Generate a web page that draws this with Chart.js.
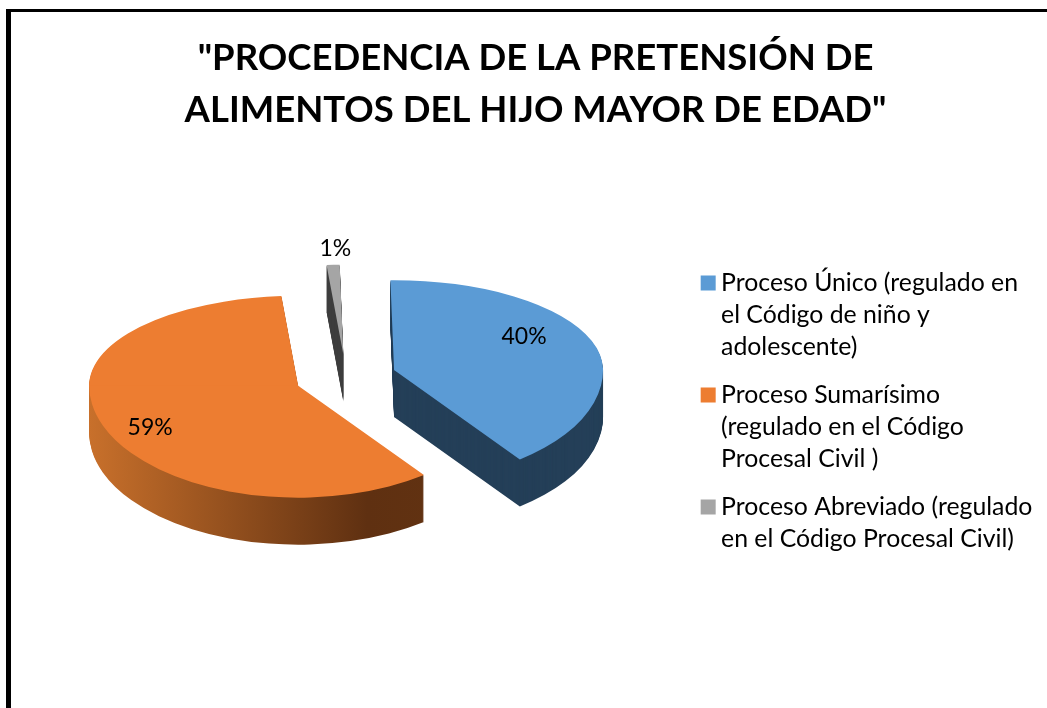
<!DOCTYPE html>
<html>
<head>
    <meta charset="utf-8">
    <title>Procedencia de la pretensión de alimentos</title>
    <style>
        html, body { margin: 0; padding: 0; background: #fff; overflow: hidden; }
        .wrap { position: relative; width: 1047px; height: 708px; }
        /* marco negro: solo arriba e izquierda se ven en la captura */
        .frame {
            position: absolute; left: 6px; top: 9px; right: 0; bottom: 0;
            border-left: 5px solid #000; border-top: 3px solid #000;
        }
        canvas { position: absolute; left: 0; top: 0; }
    </style>
</head>
<body>
<div class="wrap">
    <div class="frame"></div>
    <canvas id="pieChart" width="1047" height="708"></canvas>
</div>

<script src="https://cdn.jsdelivr.net/npm/chart.js"></script>
<script>
    const chartTitle = ['"PROCEDENCIA DE LA PRETENSIÓN DE', 'ALIMENTOS DEL HIJO MAYOR DE EDAD"'];
    const categories = [
        ['Proceso Único (regulado en', 'el Código de niño y', 'adolescente)'],
        ['Proceso Sumarísimo', '(regulado en el Código', 'Procesal Civil )'],
        ['Proceso Abreviado (regulado', 'en el Código Procesal Civil)']
    ];
    const values = [40, 59, 1];
    const topColors = ['#5B9BD5', '#ED7D31', '#A5A5A5'];
    const wallColors = ['#243F58', null, '#3F3F3F'];

    // ajustes del falso 3D
    const FONT = 'Lato, Carlito, sans-serif';
    const RADIUS = 209;
    const EXPLODE = 51;
    const DEPTH = 47;
    const SQUASH_OFFSET = 0.45;
    const SQUASH_BACK = 0.43;   // mitad de atrás, más aplastada
    const SQUASH_FRONT = 0.536; // mitad de delante
    const labelShift = [[130, -33], [-148, 42], [-8, -106]];

    function sliceAnchor(arc) {
        const mid = (arc.startAngle + arc.endAngle) / 2;
        return {
            x: arc.x + Math.cos(mid) * EXPLODE,
            y: arc.y + Math.sin(mid) * EXPLODE * SQUASH_OFFSET
        };
    }

    function drawFlat(ctx, arc, fill, depth) {
        const a = sliceAnchor(arc);
        const saved = arc.options.backgroundColor;
        arc.options.backgroundColor = fill;
        [[SQUASH_BACK, -2000, 2000.5], [SQUASH_FRONT, 0, 2000]].forEach(([k, top, h]) => {
            ctx.save();
            ctx.beginPath();
            ctx.rect(0, a.y + depth + top, 1047, h);
            ctx.clip();
            ctx.translate(a.x, a.y + depth);
            ctx.scale(1, k);
            ctx.translate(-arc.x, -arc.y);
            arc.draw(ctx);
            ctx.restore();
        });
        arc.options.backgroundColor = saved;
    }

    const pie3d = {
        id: 'pie3d',
        afterLayout(chart) {
            // la leyenda va más baja que la tarta y el título algo a la derecha
            chart.legend.top += 107;
            chart.legend.bottom += 107;
            chart.legend.right += 19; // si no, recorta "regulado"
            chart.titleBlock.left += 21.5;
            chart.titleBlock.right += 21.5;
        },
        beforeDatasetDraw(chart, args) {
            const ctx = chart.ctx;
            const arcs = args.meta.data;
            [2, 0, 1].forEach(i => {
                const arc = arcs[i];
                let wall = wallColors[i];
                if (!wall) {
                    wall = ctx.createLinearGradient(arc.x - RADIUS, 0, arc.x + RADIUS, 0);
                    wall.addColorStop(0, '#C8702B');
                    wall.addColorStop(0.665, '#5F3011');
                    wall.addColorStop(1, '#643412');
                }
                for (let d = DEPTH; d > 0; d--) drawFlat(ctx, arc, wall, d);
                drawFlat(ctx, arc, topColors[i], 0);
            });
            return false;
        },
        afterDatasetsDraw(chart) {
            const ctx = chart.ctx;
            ctx.save();
            ctx.font = '23px ' + FONT;
            ctx.fillStyle = '#000';
            ctx.textAlign = 'center';
            ctx.textBaseline = 'middle';
            chart.getDatasetMeta(0).data.forEach((arc, i) => {
                const a = sliceAnchor(arc);
                ctx.fillText(values[i] + '%', a.x + labelShift[i][0], a.y + labelShift[i][1]);
            });
            ctx.restore();
        }
    };

    new Chart(document.getElementById('pieChart'), {
        type: 'pie',
        data: {
            labels: categories,
            datasets: [{
                data: values,
                backgroundColor: topColors,
                borderWidth: 0,
                radius: RADIUS
            }]
        },
        options: {
            responsive: false,
            animation: false,
            rotation: -1,
            layout: { padding: { left: 0, right: 19, top: 0, bottom: 93 } },
            plugins: {
                tooltip: { enabled: false },
                title: {
                    display: true,
                    text: chartTitle,
                    color: '#000',
                    font: { family: FONT, size: 36.5, weight: 'bold', lineHeight: 52 / 36.5 },
                    padding: { top: 32, bottom: 4 }
                },
                legend: {
                    position: 'right',
                    labels: {
                        color: '#000',
                        font: { family: FONT, size: 24.8, lineHeight: 32 / 24.8 },
                        padding: 16,
                        // caja de 1px con trazo grueso: deja el hueco corto entre cuadro y texto
                        boxWidth: 1,
                        boxHeight: 1,
                        generateLabels(chart) {
                            return Chart.overrides.pie.plugins.legend.labels.generateLabels(chart).map((item, i) => {
                                item.strokeStyle = topColors[i];
                                item.lineWidth = 14;
                                return item;
                            });
                        }
                    }
                }
            }
        },
        plugins: [pie3d]
    });
</script>
</body>
</html>
